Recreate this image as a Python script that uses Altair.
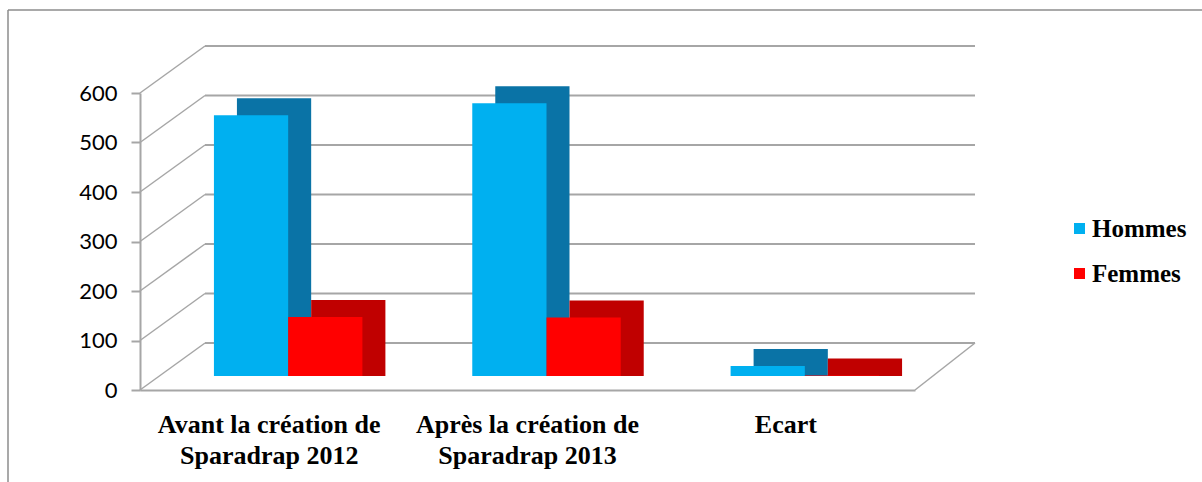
import altair as alt
import pandas as pd

# ---- data ----
categories = ["Avant la création de|Sparadrap 2012", "Après la création de|Sparadrap 2013", "Ecart"]
series = ["Hommes", "Femmes"]
hommes = [527, 551, 20]
femmes = [119, 118, 1]
y_ticks = [0, 100, 200, 300, 400, 500, 600]

front_colors = ["#00B0F0", "#FF0000"]
dark_colors = ["#0A73A6", "#C00000"]

rows = []
for i, c in enumerate(categories):
    rows.append({"cat": c, "sexe": "Hommes", "val": hommes[i], "dark": dark_colors[0]})
    rows.append({"cat": c, "sexe": "Femmes", "val": femmes[i], "dark": dark_colors[1]})
df = pd.DataFrame(rows)
ticks_df = pd.DataFrame({"v": y_ticks})
zero_df = pd.DataFrame({"v": [0]})

# ---- layout (pixels) ----
W, H = 775, 297
BAND = W / 3
WALL_DX, WALL_DY = 65, 47      # back wall shift
BAR_DX, BAR_DY = 19, 14        # bar front face shift (depth position)
DEP_DX, DEP_DY = 23, 17        # bar depth
GRID = "#A6A6A6"

yscale = alt.Scale(domain=[0, 600], nice=False, zero=True)
xscale = alt.Scale(domain=categories, paddingInner=0, paddingOuter=0)
xoff_front = alt.Scale(domain=series, paddingInner=0, paddingOuter=0.74,
                       range=[BAR_DX, BAND + BAR_DX])
xoff_dark = alt.Scale(domain=series, paddingInner=0, paddingOuter=0.74,
                      range=[BAR_DX + DEP_DX, BAND + BAR_DX + DEP_DX])

x_axis = alt.Axis(
    title=None, ticks=False, grid=False, domain=True, domainColor=GRID, domainWidth=2,
    labelAngle=0, labelFont="Liberation Serif", labelFontSize=26, labelFontWeight="bold",
    labelColor="#000000", labelPadding=21, labelLineHeight=31, labelBaseline="top",
    labelLimit=0, labelExpr="split(datum.label, '|')",
)
y_axis = alt.Axis(
    title=None, values=y_ticks, grid=False, domain=True, domainColor=GRID, domainWidth=2,
    ticks=True, tickColor=GRID, tickWidth=2, tickSize=9, labelPadding=14,
    labelFont="Lato", labelFontSize=22, labelColor="#000000",
)

back_wall = alt.Chart(ticks_df).mark_rule(color=GRID, strokeWidth=2, yOffset=-WALL_DY).encode(
    y=alt.Y("v:Q", scale=yscale, axis=y_axis),
    x=alt.value(WALL_DX),
    x2=alt.value(W + 60),
)

diagonals = alt.Chart(ticks_df).mark_rule(color=GRID, strokeWidth=1.5, y2Offset=-WALL_DY).encode(
    y=alt.Y("v:Q", scale=yscale),
    y2=alt.Y2("v"),
    x=alt.value(0),
    x2=alt.value(WALL_DX),
)

floor_right = alt.Chart(zero_df).mark_rule(color=GRID, strokeWidth=1.5, y2Offset=-WALL_DY).encode(
    y=alt.Y("v:Q", scale=yscale),
    y2=alt.Y2("v"),
    x=alt.value(W),
    x2=alt.value(W + 60),
)

frame_left = alt.Chart(zero_df).mark_rule(color="#8C8C8C", strokeWidth=1.5).encode(
    x=alt.value(-132), y=alt.value(-83), y2=alt.value(H + 100)
)
frame_top = alt.Chart(zero_df).mark_rule(color="#8C8C8C", strokeWidth=1.5).encode(
    y=alt.value(-83), x=alt.value(-132), x2=alt.value(W + 300)
)

# side + top faces: a darker box pushed back in depth
bars_dark = alt.Chart(df).mark_bar(
    yOffset=-(BAR_DY + DEP_DY), y2Offset=-BAR_DY,
).encode(
    x=alt.X("cat:N", scale=xscale, axis=x_axis, sort=categories),
    xOffset=alt.XOffset("sexe:N", scale=xoff_dark, sort=series),
    y=alt.Y("val:Q", scale=yscale),
    y2=alt.datum(0),
    color=alt.Color("dark:N", scale=None, legend=None),
)

bars_front = alt.Chart(df).mark_bar(
    yOffset=-BAR_DY, y2Offset=-BAR_DY,
).encode(
    x=alt.X("cat:N", scale=xscale, sort=categories),
    xOffset=alt.XOffset("sexe:N", scale=xoff_front, sort=series),
    y=alt.Y("val:Q", scale=yscale),
    y2=alt.datum(0),
    color=alt.Color(
        "sexe:N",
        scale=alt.Scale(domain=series, range=front_colors),
        legend=alt.Legend(
            title=None, orient="none", legendX=927, legendY=123,
            symbolType="square", symbolSize=121, symbolStrokeWidth=0,
            labelFont="Liberation Serif", labelFontSize=25, labelFontWeight="bold",
            labelColor="#000000", rowPadding=19, labelOffset=0, labelLimit=0,
        ),
    ),
)

chart = alt.layer(
    frame_left, frame_top, back_wall, diagonals, floor_right, bars_dark, bars_front
).resolve_scale(color="independent", xOffset="independent").properties(
    width=W, height=H,
    padding={"left": 140, "top": 93, "right": 287, "bottom": 92},
    autosize=alt.AutoSizeParams(type="none"),
    background="#FFFFFF",
).configure_view(stroke=None)

chart.save("out.html", embed_options={"renderer": "svg", "actions": False})
